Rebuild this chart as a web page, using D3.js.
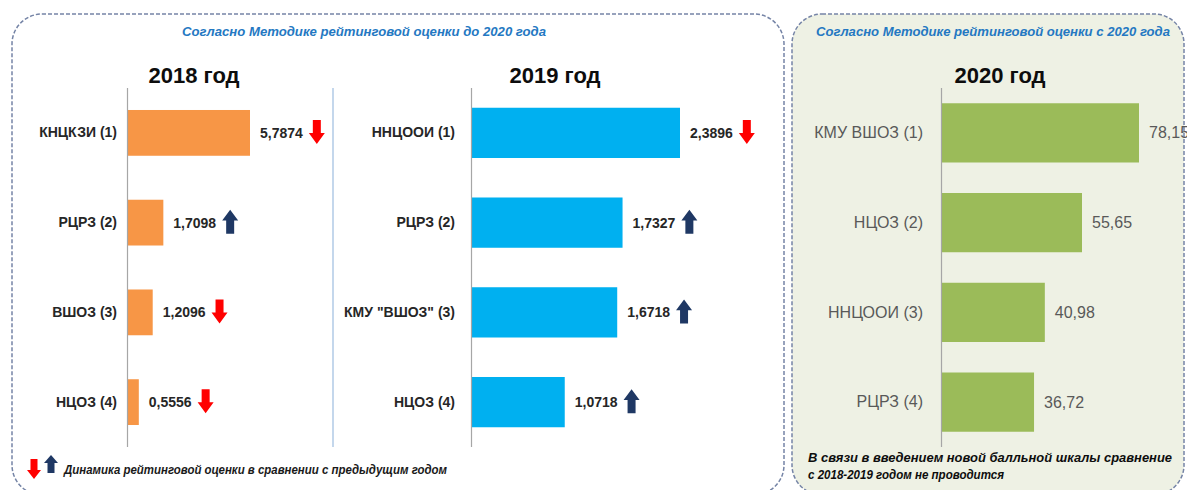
<!DOCTYPE html>
<html>
<head>
<meta charset="utf-8">
<script src="https://cdn.jsdelivr.net/npm/d3@7"></script>
<style>
  body { margin: 0; background: #fff; }
  svg { display: block; font-family: "Liberation Sans", Arial, sans-serif; }
</style>
</head>
<body>
<div id="chart"></div>
<script>
// data
const cats2018 = ['КНЦКЗИ (1)', 'РЦРЗ (2)', 'ВШОЗ (3)', 'НЦОЗ (4)'];
const vals2018 = [5.7874, 1.7098, 1.2096, 0.5556];
const trend2018 = ['down', 'up', 'down', 'down'];

const cats2019 = ['ННЦООИ (1)', 'РЦРЗ (2)', 'КМУ "ВШОЗ" (3)', 'НЦОЗ (4)'];
const vals2019 = [2.3896, 1.7327, 1.6718, 1.0718];
const trend2019 = ['down', 'up', 'up', 'up'];

const cats2020 = ['КМУ ВШОЗ (1)', 'НЦОЗ (2)', 'ННЦООИ (3)', 'РЦРЗ (4)'];
const vals2020 = [78.15, 55.65, 40.98, 36.72];

const titleOld = 'Согласно Методике рейтинговой оценки до 2020 года';
const titleNew = 'Согласно Методике рейтинговой оценки с 2020 года';
const legendText = 'Динамика рейтинговой оценки в сравнении с предыдущим годом';
const noteLines = ['В связи в введением  новой балльной шкалы сравнение', 'с 2018-2019 годом не проводится'];

const W = 1187, H = 490;
const RED = '#ff0000', NAVY = '#1f3864';

const svg = d3.select('#chart').append('svg')
    .attr('width', W)
    .attr('height', H);

// Panels
svg.append('rect')
    .attr('x', 12).attr('y', 14).attr('width', 772).attr('height', 481)
    .attr('rx', 30).attr('ry', 30)
    .attr('fill', '#fff')
    .attr('stroke', '#7584a6').attr('stroke-width', 1.5)
    .attr('stroke-dasharray', '4,2');

svg.append('rect')
    .attr('x', 792).attr('y', 14).attr('width', 392).attr('height', 481)
    .attr('rx', 30).attr('ry', 30)
    .attr('fill', '#eef1e4')
    .attr('stroke', '#7584a6').attr('stroke-width', 1.5)
    .attr('stroke-dasharray', '4,2');

// Panel headers
function header(text, cx, width) {
    svg.append('text')
        .attr('x', cx).attr('y', 36)
        .attr('text-anchor', 'middle')
        .attr('textLength', width).attr('lengthAdjust', 'spacingAndGlyphs')
        .style('font-size', '13px').style('font-style', 'italic').style('font-weight', 'bold')
        .style('fill', '#2478c2')
        .text(text);
}
header(titleOld, 364, 364);
header(titleNew, 993, 354);

// Separator between 2018 and 2019
svg.append('line')
    .attr('x1', 333).attr('x2', 333).attr('y1', 88).attr('y2', 447)
    .attr('stroke', '#9dbde0').attr('stroke-width', 1.2);

// Block arrow
function arrow(g, cx, cy, dir, color, w = 16, h = 24) {
    const s = w * 0.5, hh = h * 0.45;
    let pts;
    if (dir === 'down') {
        pts = [[cx - s / 2, cy - h / 2], [cx + s / 2, cy - h / 2], [cx + s / 2, cy + h / 2 - hh],
               [cx + w / 2, cy + h / 2 - hh], [cx, cy + h / 2], [cx - w / 2, cy + h / 2 - hh],
               [cx - s / 2, cy + h / 2 - hh]];
    } else {
        pts = [[cx - s / 2, cy + h / 2], [cx + s / 2, cy + h / 2], [cx + s / 2, cy - h / 2 + hh],
               [cx + w / 2, cy - h / 2 + hh], [cx, cy - h / 2], [cx - w / 2, cy - h / 2 + hh],
               [cx - s / 2, cy - h / 2 + hh]];
    }
    g.append('path')
        .attr('d', d3.line()(pts) + 'Z')
        .attr('fill', color);
}

function barChart(opt) {
    const g = svg.append('g');

    const x = d3.scaleLinear()
        .domain([0, d3.max(opt.values)])
        .range([opt.x0, opt.x0 + opt.width]);

    const y = d3.scaleBand()
        .domain(opt.cats)
        .range([88, 447])
        .paddingInner(opt.padIn)
        .paddingOuter(opt.padOut);

    // year title
    g.append('text')
        .attr('x', opt.titleX).attr('y', 83)
        .attr('text-anchor', 'middle')
        .style('font-size', '22px').style('font-weight', 'bold').style('fill', '#0d0d0d')
        .text(opt.title);

    g.selectAll('rect.bar')
        .data(opt.values)
        .join('rect')
        .attr('class', 'bar')
        .attr('x', x(0))
        .attr('y', (d, i) => y(opt.cats[i]))
        .attr('width', d => x(d) - x(0))
        .attr('height', y.bandwidth())
        .attr('fill', opt.color);

    // axis line with category labels
    const axis = d3.axisLeft(y).tickSize(0).tickPadding(opt.labelPad);
    const axisG = g.append('g')
        .attr('transform', `translate(${x(0)},0)`)
        .call(axis);
    axisG.select('path.domain')
        .attr('d', `M0.5,88V447`)
        .style('stroke', '#a6a6a6').style('stroke-width', 1.2);
    axisG.selectAll('text')
        .style('font-family', '"Liberation Sans", Arial, sans-serif')
        .style('font-size', opt.labelSize + 'px')
        .style('font-weight', opt.bold ? 'bold' : 'normal')
        .style('fill', opt.textColor);

    // value labels
    const fmt = v => String(v).replace('.', ',');
    const labels = g.selectAll('text.val')
        .data(opt.values)
        .join('text')
        .attr('class', 'val')
        .attr('x', d => x(d) + 10)
        .attr('y', (d, i) => y(opt.cats[i]) + y.bandwidth() / 2)
        .attr('dy', '0.35em')
        .style('font-size', opt.labelSize + 'px')
        .style('font-weight', opt.bold ? 'bold' : 'normal')
        .style('fill', opt.textColor)
        .text(fmt);

    if (opt.trend) {
        labels.each(function (d, i) {
            const len = this.getComputedTextLength();
            const cx = x(d) + 10 + len + 14;
            const cy = y(opt.cats[i]) + y.bandwidth() / 2 - 1;
            const t = opt.trend[i];
            arrow(g, cx, cy, t, t === 'down' ? RED : NAVY);
        });
    }
}

barChart({
    title: '2018 год', titleX: 194,
    cats: cats2018, values: vals2018, trend: trend2018,
    x0: 127, width: 123, color: '#f79646',
    padIn: 0.49, padOut: 0.245,
    labelPad: 10, labelSize: 14, bold: true, textColor: '#262626'
});

barChart({
    title: '2019 год', titleX: 555,
    cats: cats2019, values: vals2019, trend: trend2019,
    x0: 471, width: 209, color: '#00b0f0',
    padIn: 0.44, padOut: 0.22,
    labelPad: 16, labelSize: 14, bold: true, textColor: '#262626'
});

barChart({
    title: '2020 год', titleX: 1000,
    cats: cats2020, values: vals2020, trend: null,
    x0: 941, width: 198, color: '#9bbb59',
    padIn: 0.34, padOut: 0.17,
    labelPad: 18, labelSize: 16, bold: false, textColor: '#595959'
});

// Legend (left panel)
arrow(svg, 34, 469, 'down', RED, 14, 20);
arrow(svg, 51, 464, 'up', NAVY, 14, 18);
svg.append('text')
    .attr('x', 64).attr('y', 474)
    .attr('textLength', 383).attr('lengthAdjust', 'spacingAndGlyphs')
    .style('font-size', '13px').style('font-style', 'italic').style('font-weight', 'bold')
    .style('fill', '#1a1a1a')
    .text(legendText);

// Note (right panel)
svg.append('text')
    .attr('x', 808).attr('y', 462)
    .attr('textLength', 364).attr('lengthAdjust', 'spacingAndGlyphs')
    .style('font-size', '13px').style('font-style', 'italic').style('font-weight', 'bold')
    .style('fill', '#0d0d0d')
    .text(noteLines[0]);
svg.append('text')
    .attr('x', 808).attr('y', 479)
    .attr('textLength', 196).attr('lengthAdjust', 'spacingAndGlyphs')
    .style('font-size', '13px').style('font-style', 'italic').style('font-weight', 'bold')
    .style('fill', '#0d0d0d')
    .text(noteLines[1]);
</script>
</body>
</html>
